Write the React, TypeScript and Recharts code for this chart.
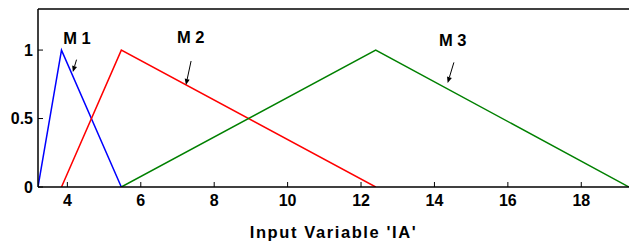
import { LineChart, Line, XAxis, YAxis, ReferenceLine, ReferenceDot, Label } from 'recharts'

// membership functions (triangles)
const m1X = [3.2, 3.84, 5.47]
const m1Y = [0, 1, 0]
const m2X = [3.84, 5.47, 12.4]
const m2Y = [0, 1, 0]
const m3X = [5.47, 12.4, 19.3]
const m3Y = [0, 1, 0]

const xTicks = [4, 6, 8, 10, 12, 14, 16, 18]
const yTicks = [0, 0.5, 1]

const labelNames = ['M 1', 'M 2', 'M 3']
const labelX = [4.26, 7.36, 14.5]
const labelY = [1.09, 1.095, 1.07]
// arrows: start (near label) -> tip (on curve)
const arrowFromX = [4.25, 7.37, 14.53]
const arrowFromY = [0.93, 0.92, 0.91]
const arrowToX = [4.15, 7.23, 14.36]
const arrowToY = [0.84, 0.745, 0.76]

const toPoints = (xs: number[], ys: number[]) => xs.map((x, i) => ({ x, y: ys[i] }))

const series = [
  { name: 'M1', data: toPoints(m1X, m1Y), color: '#0000ff' },
  { name: 'M2', data: toPoints(m2X, m2Y), color: '#ff0000' },
  { name: 'M3', data: toPoints(m3X, m3Y), color: '#008000' },
]

const font = '"Liberation Sans", Arial, sans-serif'
const tickStyle = { fontSize: 16, fontWeight: 'bold', fill: '#000', fontFamily: font }
const axisLine = { stroke: '#000', strokeWidth: 1.5 }

function Arrow(props: any) {
  const { x1, y1, x2, y2 } = props
  if (x1 == null) return null
  const dx = x2 - x1
  const dy = y2 - y1
  const len = Math.sqrt(dx * dx + dy * dy) || 1
  const ux = dx / len
  const uy = dy / len
  const hl = 6
  const hw = 2.5
  const bx = x2 - ux * hl
  const by = y2 - uy * hl
  const pts = `${x2},${y2} ${bx - uy * hw},${by + ux * hw} ${bx + uy * hw},${by - ux * hw}`
  return (
    <g>
      <line x1={x1} y1={y1} x2={bx} y2={by} stroke="#000" strokeWidth={1} />
      <polygon points={pts} fill="#000" />
    </g>
  )
}

export default function App() {
  return (
    <div style={{ position: 'absolute', left: 0, top: 0, width: 629, height: 246, background: '#fff' }}>
      <LineChart width={629} height={246} margin={{ top: 8, right: 0, bottom: 6, left: 0 }}>
        <XAxis
          xAxisId="b"
          type="number"
          dataKey="x"
          domain={[3.2, 19.3]}
          ticks={xTicks}
          allowDataOverflow
          axisLine={axisLine}
          tickLine={{ stroke: '#000' }}
          tickSize={-5}
          tickMargin={13}
          tick={tickStyle}
          height={53}
        >
          <Label
            value="Input Variable 'IA'"
            position="insideBottom"
            offset={2}
            style={{ fontSize: 16.5, fontWeight: 'bold', letterSpacing: 1.6, fill: '#000', fontFamily: font }}
          />
        </XAxis>
        <XAxis
          xAxisId="t"
          orientation="top"
          type="number"
          dataKey="x"
          domain={[3.2, 19.3]}
          ticks={xTicks}
          allowDataOverflow
          axisLine={axisLine}
          tickLine={{ stroke: '#000' }}
          tickSize={-5}
          tick={false}
          height={1}
        />
        <YAxis
          yAxisId="l"
          type="number"
          domain={[0, 1.3]}
          ticks={yTicks}
          allowDataOverflow
          axisLine={axisLine}
          tickLine={{ stroke: '#000' }}
          tickSize={-5}
          tickMargin={10}
          tick={tickStyle}
          width={38}
        />
        <YAxis
          yAxisId="r"
          orientation="right"
          type="number"
          domain={[0, 1.3]}
          ticks={yTicks}
          allowDataOverflow
          axisLine={axisLine}
          tickLine={{ stroke: '#000' }}
          tickSize={-5}
          tick={false}
          width={0}
        />
        {series.map(s => (
          <Line
            key={s.name}
            xAxisId="b"
            yAxisId="l"
            data={s.data}
            dataKey="y"
            type="linear"
            stroke={s.color}
            strokeWidth={1.5}
            dot={false}
            isAnimationActive={false}
          />
        ))}
        {labelNames.map((n, i) => (
          <ReferenceDot
            key={n}
            xAxisId="b"
            yAxisId="l"
            x={labelX[i]}
            y={labelY[i]}
            r={0}
            ifOverflow="visible"
            shape={(p: any) => (
              <text
                x={p.cx}
                y={p.cy}
                textAnchor="middle"
                dominantBaseline="central"
                fontSize={16.5}
                fontWeight="bold"
                fontFamily={font}
                fill="#000"
              >
                {n}
              </text>
            )}
          />
        ))}
        {labelNames.map((n, i) => (
          <ReferenceLine
            key={'a' + n}
            xAxisId="b"
            yAxisId="l"
            ifOverflow="visible"
            segment={[
              { x: arrowFromX[i], y: arrowFromY[i] },
              { x: arrowToX[i], y: arrowToY[i] },
            ]}
            shape={Arrow}
          />
        ))}
      </LineChart>
    </div>
  )
}
